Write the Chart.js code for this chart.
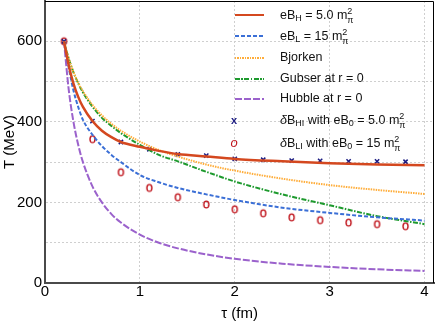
<!DOCTYPE html>
<html>
<head>
<meta charset="utf-8">
<script src="https://cdn.jsdelivr.net/npm/chart.js@4.4.0/dist/chart.umd.min.js"></script>
<style>
  html, body { margin: 0; padding: 0; background: #fff; }
  #wrap { position: relative; width: 436px; height: 327px; font-family: "Liberation Sans", Arial, sans-serif; }
  #legend { position: absolute; left: 0; top: 0; pointer-events: none; }
  .sample { position: absolute; left: 235px; width: 29px; }
  .mark { position: absolute; width: 12px; text-align: center; line-height: 14px; }
  .label { position: absolute; left: 280px; font-size: 12.5px; line-height: 14px; color: #111; white-space: nowrap; }
  .label sub { font-size: 0.72em; vertical-align: -0.3em; line-height: 0; }
  .ss { display: inline-block; vertical-align: -0.45em; font-size: 0.72em; line-height: 0.95em; text-align: left; }
  .ss span { display: block; }
</style>
</head>
<body>
<div id="wrap">
  <canvas id="c" width="436" height="327"></canvas>
  <div id="legend"></div>
</div>
<script>
// proper time grid for the curves (fm)
const tau = [0.2, 0.25, 0.3, 0.35, 0.4, 0.5, 0.6, 0.7, 0.8, 1.0, 1.2, 1.4, 1.7, 2.0, 2.5, 3.0, 3.5, 4.0];
// temperatures (MeV)
const tHigh    = [600, 540, 495, 462, 437, 402, 378, 362, 350, 338, 328, 320, 314, 308, 302, 297, 294, 292];
const tLow     = [600, 535, 478, 437, 405, 368, 340, 318, 300, 268, 250, 236, 220, 206, 187, 174, 163, 155];
const tBjorken = [600, 557, 524, 497, 476, 442, 416, 395, 378, 351, 330, 314, 294, 279, 259, 243, 231, 221];
const tGubser  = [600, 557, 523, 496, 473, 438, 410, 390, 372, 343, 318, 302, 276, 252, 220, 193, 166, 146];
const tHubble  = [600, 480, 400, 343, 300, 240, 200, 171, 150, 120, 100, 86, 71, 60, 48, 40, 34, 30];

// marker series
const tauMarks = [0.2, 0.5, 0.8, 1.1, 1.4, 1.7, 2.0, 2.3, 2.6, 2.9, 3.2, 3.5, 3.8];
const tDeltaHI = [600, 402, 350, 332, 319, 316, 308, 306, 304, 303, 302, 302, 301];
const tDeltaLI = [600, 357, 275, 236, 213, 195, 183, 173, 163, 156, 150, 146, 141];

const xTicks = [0, 1, 2, 3, 4];
const yTicks = [0, 200, 400, 600];

const legendLabels = [
  'eB<sub>H</sub> = 5.0 m<span class="ss"><span>2</span><span>π</span></span>',
  'eB<sub>L</sub> = 15 m<span class="ss"><span>2</span><span>π</span></span>',
  'Bjorken',
  'Gubser at r = 0',
  'Hubble at r = 0',
  '<i>δ</i>B<sub>HI</sub> with eB<sub>0</sub> = 5.0 m<span class="ss"><span>2</span><span>π</span></span>',
  '<i>δ</i>B<sub>LI</sub> with eB<sub>0</sub> = 15 m<span class="ss"><span>2</span><span>π</span></span>'
];

const pts = (xs, ys) => xs.map((x, i) => ({ x: x, y: ys[i] }));

// small ellipse used for the "o" markers
const ring = document.createElement('canvas');
ring.width = 9; ring.height = 11;
(function () {
  const g = ring.getContext('2d');
  g.strokeStyle = '#c0141c';
  g.lineWidth = 1.4;
  g.beginPath();
  g.ellipse(4.5, 5.5, 2.5, 3.4, 0, 0, Math.PI * 2);
  g.stroke();
})();

function lineSet(label, ys, color, width, dash) {
  return {
    type: 'line', label: label, data: pts(tau, ys),
    borderColor: color, borderWidth: width, borderDash: dash,
    pointRadius: 0, fill: false, cubicInterpolationMode: 'monotone'
  };
}

const framePlugin = {
  id: 'frame',
  afterDraw(chart) {
    const { ctx, chartArea: a } = chart;
    ctx.save();
    ctx.strokeStyle = '#000';
    ctx.lineWidth = 1;
    ctx.beginPath();
    ctx.moveTo(a.left, a.top + 0.5);
    ctx.lineTo(a.right - 0.5, a.top + 0.5);
    ctx.lineTo(a.right - 0.5, a.bottom);
    ctx.stroke();
    ctx.restore();
  }
};

Chart.defaults.font.family = '"Liberation Sans", Arial, sans-serif';
Chart.defaults.color = '#000';

const chart = new Chart(document.getElementById('c'), {
  type: 'scatter',
  data: {
    datasets: [
      lineSet('eBH = 5.0', tHigh, '#d4481f', 2.5, []),
      lineSet('eBL = 15', tLow, '#3b6fd6', 2, [4, 2]),
      lineSet('Bjorken', tBjorken, '#ffad3a', 2, [1.5, 1]),
      lineSet('Gubser at r = 0', tGubser, '#1e9a2e', 2, [5, 1.5, 1.5, 1.5]),
      lineSet('Hubble at r = 0', tHubble, '#9b62cc', 2, [7, 2]),
      {
        label: 'dBHI', data: pts(tauMarks, tDeltaHI), showLine: false,
        pointStyle: 'crossRot', pointRadius: 3, borderWidth: 1.5,
        borderColor: '#1c1c82', backgroundColor: '#1c1c82'
      },
      {
        label: 'dBLI', data: pts(tauMarks, tDeltaLI), showLine: false,
        pointStyle: ring, pointRadius: 4
      }
    ]
  },
  options: {
    responsive: false,
    animation: false,
    layout: { autoPadding: false, padding: { top: 1, right: 2 } },
    plugins: { legend: { display: false }, tooltip: { enabled: false } },
    scales: {
      x: {
        type: 'linear', min: 0, max: 4.1,
        afterFit(s) { s.height = 44; s.paddingLeft = 0; s.paddingRight = 0; },
        ticks: {
          stepSize: 1, includeBounds: false, padding: 0,
          font: { size: 15 },
          callback: v => xTicks.includes(v) ? String(v) : ''
        },
        grid: { color: '#cfcfcf', drawTicks: false, lineWidth: 1 },
        border: { color: '#4a4a4a', width: 2, dash: [2, 2] },
        title: { display: true, text: 'τ (fm)', font: { size: 15 }, padding: { top: 0, bottom: 4 } }
      },
      y: {
        min: 0, max: 700,
        afterFit(s) { s.width = 45; s.paddingTop = 0; s.paddingBottom = 0; },
        ticks: {
          stepSize: 100, includeBounds: false, padding: 3,
          font: { size: 15 },
          callback: v => yTicks.includes(v) ? String(v) : ''
        },
        grid: { color: '#cfcfcf', drawTicks: false, lineWidth: 1 },
        border: { color: '#4a4a4a', width: 2, dash: [2, 2] },
        title: { display: true, text: 'T (MeV)', font: { size: 15 }, padding: { top: 1, bottom: 0 } }
      }
    }
  },
  plugins: [framePlugin]
});

// legend with sub/superscripts, built from the datasets
const rowY = [15, 36, 58, 79, 99, 120, 143];
const legend = document.getElementById('legend');
chart.data.datasets.forEach((ds, i) => {
  const y = rowY[i];
  if (ds.type === 'line') {
    const s = document.createElement('div');
    s.className = 'sample';
    const h = ds.borderWidth;
    s.style.top = (y - h / 2) + 'px';
    s.style.height = h + 'px';
    const d = ds.borderDash;
    if (!d.length) {
      s.style.background = ds.borderColor;
    } else {
      let stops = [], p = 0;
      d.forEach((len, k) => {
        const c = k % 2 === 0 ? ds.borderColor : 'transparent';
        stops.push(c + ' ' + p + 'px ' + (p + len) + 'px');
        p += len;
      });
      s.style.background = 'repeating-linear-gradient(90deg,' + stops.join(',') + ')';
    }
    legend.appendChild(s);
  } else {
    const m = document.createElement('div');
    m.className = 'mark';
    m.style.left = '228px';
    m.style.top = (y - 7) + 'px';
    if (i === 5) {
      m.textContent = 'x';
      m.style.color = '#1c1c82';
      m.style.fontSize = '11px';
      m.style.fontWeight = 'bold';
    } else {
      m.textContent = 'o';
      m.style.color = '#c0141c';
      m.style.fontSize = '13px';
      m.style.fontStyle = 'italic';
    }
    legend.appendChild(m);
  }
  const t = document.createElement('div');
  t.className = 'label';
  t.style.top = (y - 8) + 'px';
  t.innerHTML = legendLabels[i];
  legend.appendChild(t);
});
</script>
</body>
</html>
